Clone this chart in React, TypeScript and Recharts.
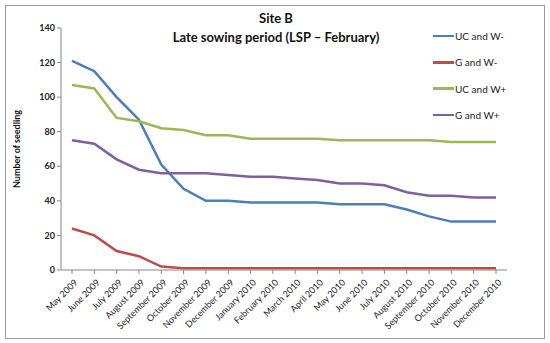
import React from "react";
import { LineChart, Line, XAxis, YAxis } from "recharts";

const months = [
  "May 2009", "June 2009", "July 2009", "August 2009", "September 2009", "October 2009",
  "November 2009", "December 2009", "January 2010", "February 2010", "March 2010", "April 2010",
  "May 2010", "June 2010", "July 2010", "August 2010", "September 2010", "October 2010",
  "November 2010", "December 2010",
];
const ucWMinus = [121, 115, 100, 87, 61, 47, 40, 40, 39, 39, 39, 39, 38, 38, 38, 35, 31, 28, 28, 28];
const gWMinus = [24, 20, 11, 8, 2, 1, 1, 1, 1, 1, 1, 1, 1, 1, 1, 1, 1, 1, 1, 1];
const ucWPlus = [107, 105, 88, 86, 82, 81, 78, 78, 76, 76, 76, 76, 75, 75, 75, 75, 75, 74, 74, 74];
const gWPlus = [75, 73, 64, 58, 56, 56, 56, 55, 54, 54, 53, 52, 50, 50, 49, 45, 43, 43, 42, 42];
const yTicks = [0, 20, 40, 60, 80, 100, 120, 140];

const seriesDefs = [
  { key: "ucm", name: "UC and W-", color: "#4A7EBB" },
  { key: "gm", name: "G and W-", color: "#BE4B48" },
  { key: "ucp", name: "UC and W+", color: "#98B954" },
  { key: "gp", name: "G and W+", color: "#7D60A0" },
];

const data = months.map((m, i) => ({
  month: m,
  ucm: ucWMinus[i],
  gm: gWMinus[i],
  ucp: ucWPlus[i],
  gp: gWPlus[i],
}));

const FONT = "Lato, 'Open Sans', sans-serif";

const XTick = (props: any) => {
  const { x, y, payload } = props;
  return (
    <g transform={`translate(${x + 4},${y + 5})`}>
      <text transform="rotate(-45)" textAnchor="end" fontSize={9} fill="#222" fontFamily={FONT} dy={3}>
        {payload.value}
      </text>
    </g>
  );
};

export default function App() {
  return (
    <div style={{ position: "absolute", left: 0, top: 0, width: 550, height: 343, background: "#fff" }}>
      <div
        style={{
          position: "absolute",
          left: 5,
          top: 5,
          width: 538,
          height: 332,
          border: "1px solid #9a9a9a",
        }}
      />
      <div
        style={{
          position: "absolute",
          left: 1,
          top: 9,
          width: 550,
          textAlign: "center",
          fontFamily: FONT,
          fontWeight: "bold",
          fontSize: 13,
          lineHeight: "19px",
          color: "#111",
        }}
      >
        <div>Site B</div>
        <div>Late sowing period (LSP – February)</div>
      </div>
      <div
        style={{
          position: "absolute",
          left: 433,
          top: 23,
          fontFamily: FONT,
          fontSize: 10,
          color: "#222",
        }}
      >
        {seriesDefs.map((s) => (
          <div key={s.key} style={{ display: "flex", alignItems: "center", height: 26.3 }}>
            <div style={{ width: 21, height: 2.5, background: s.color, marginRight: 1 }} />
            <span>{s.name}</span>
          </div>
        ))}
      </div>
      <LineChart
        width={550}
        height={343}
        data={data}
        margin={{ top: 28, right: 43, left: 0, bottom: 0 }}
        style={{ position: "absolute", left: 0, top: 0 }}
      >
        <XAxis
          dataKey="month"
          interval={0}
          tick={<XTick />}
          height={73}
          padding={{ left: 11, right: 11 }}
          axisLine={{ stroke: "#888" }}
          tickLine={{ stroke: "#888" }}
          tickSize={4}
        />
        <YAxis
          domain={[0, 140]}
          ticks={yTicks}
          width={61}
          axisLine={{ stroke: "#888" }}
          tickLine={{ stroke: "#888" }}
          tickSize={4}
          tick={{ fontSize: 9, fill: "#222", fontFamily: FONT, fontWeight: "bold" }}
          label={{
            value: "Number of seedling",
            angle: -90,
            position: "insideLeft",
            dx: 12,
            style: { textAnchor: "middle", fontSize: 9, fontWeight: "bold", fill: "#111", fontFamily: FONT },
          }}
        />
        {seriesDefs.map((s) => (
          <Line
            key={s.key}
            type="linear"
            dataKey={s.key}
            name={s.name}
            stroke={s.color}
            strokeWidth={2.5}
            dot={false}
            isAnimationActive={false}
          />
        ))}
      </LineChart>
    </div>
  );
}
